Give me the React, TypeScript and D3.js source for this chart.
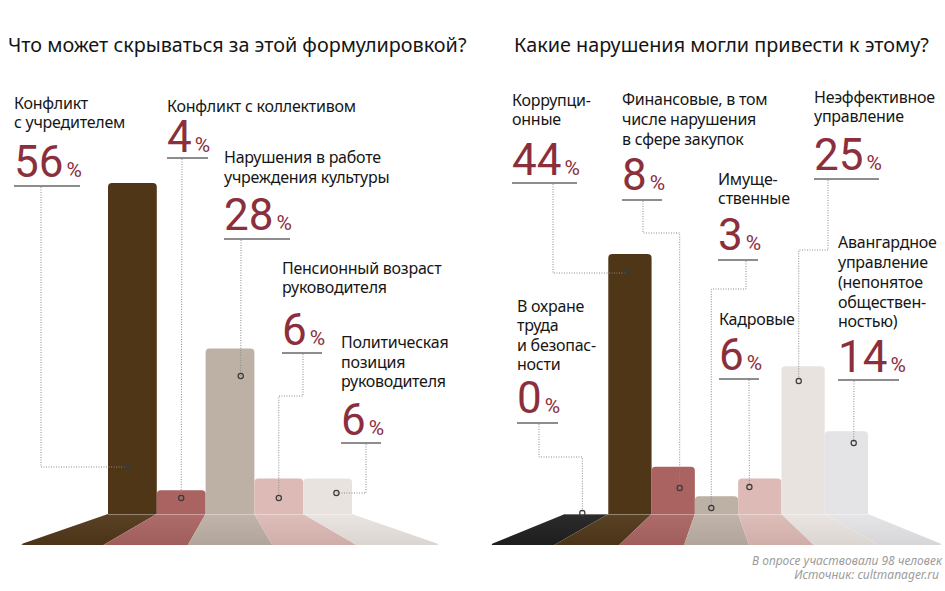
import React from "react";
import * as d3 from "d3";

// ---------- DATA ----------
const leftTitle = "Что может скрываться за этой формулировкой?";
const rightTitle = "Какие нарушения могли привести к этому?";

const leftCategories = [
  ["Конфликт", "с учредителем"],
  ["Конфликт с коллективом"],
  ["Нарушения в работе", "учреждения культуры"],
  ["Пенсионный возраст", "руководителя"],
  ["Политическая", "позиция", "руководителя"],
];
const leftValues = [56, 4, 28, 6, 6];
const leftColors = ["#4F3617", "#AA6361", "#BDB0A5", "#DDBAB5", "#E9E3DF"];

const rightCategories = [
  ["В охране", "труда", "и безопас-", "ности"],
  ["Коррупци-", "онные"],
  ["Финансовые, в том", "числе нарушения", "в сфере закупок"],
  ["Имуще-", "ственные"],
  ["Кадровые"],
  ["Неэффективное", "управление"],
  ["Авангардное", "управление", "(непонятое", "обществен-", "ностью)"],
];
const rightValues = [0, 44, 8, 3, 6, 25, 14];
const rightColors = ["#1F1F1F", "#4F3617", "#AA6361", "#BDB0A5", "#DDBAB5", "#E9E3DF", "#E4E4E7"];

const footnotes = ["В опросе участвовали 98 человек", "Источник: cultmanager.ru"];

// ---------- LAYOUT ----------
const W = 945, H = 591;
const BASE = 514, FLOOR = 545;
const FONT = "'Noto Sans', 'Open Sans', sans-serif";
const NUM_FONT = "Roboto, 'Noto Sans', sans-serif";
const RED = "#8C2F3D";

type Ann = {
  x: number; lines: number[]; num: number; ul: number; ulw: number;
  lx: number; ey?: number; dxf: number; dy: number;
};

const leftAnn: Ann[] = [
  { x: 14, lines: [109, 128], num: 177, ul: 186, ulw: 66, lx: 41, ey: 467, dxf: 0.37, dy: 467 },
  { x: 167, lines: [112], num: 152, ul: 158, ulw: 41, lx: 182, dxf: 0.5, dy: 498 },
  { x: 224, lines: [163, 183], num: 230, ul: 239, ulw: 66, lx: 241, dxf: 0.72, dy: 376 },
  { x: 282, lines: [274, 293], num: 345, ul: 353, ulw: 40, lx: 303, ey: 396, dxf: 0.5, dy: 498 },
  { x: 341, lines: [348, 368, 387], num: 435, ul: 443, ulw: 40, lx: 366, ey: 493, dxf: 0.68, dy: 493 },
];
const rightAnn: Ann[] = [
  { x: 517, lines: [312, 331, 351, 370], num: 413, ul: 423, ulw: 41, lx: 539, ey: 457, dxf: 0.4, dy: 513 },
  { x: 512, lines: [106, 125], num: 175, ul: 183, ulw: 65, lx: 553, ey: 273, dxf: 0.42, dy: 273 },
  { x: 622, lines: [105, 125, 145], num: 190, ul: 200, ulw: 40, lx: 643, ey: 233, dxf: 0.65, dy: 488 },
  { x: 718, lines: [185, 204], num: 250, ul: 260, ulw: 40, lx: 746, ey: 289, dxf: 0.38, dy: 508 },
  { x: 719, lines: [325], num: 370, ul: 379, ulw: 40, lx: 749, dxf: 0.26, dy: 487 },
  { x: 814, lines: [103, 122], num: 170, ul: 179, ulw: 65, lx: 828, ey: 250, dxf: 0.4, dy: 381 },
  { x: 838, lines: [248, 268, 288, 308, 327], num: 372, ul: 380, ulw: 61, lx: 854, dxf: 0.67, dy: 443 },
];

const yScale = d3.scaleLinear().domain([0, 56]).range([BASE, 183]);

function roundedPath(pts: [number, number][], radii: number[]) {
  let d = "";
  const n = pts.length;
  for (let i = 0; i < n; i++) {
    const p = pts[i], prev = pts[(i - 1 + n) % n], next = pts[(i + 1) % n];
    const r = radii[i];
    if (!r) { d += (i === 0 ? "M" : "L") + p[0] + "," + p[1]; continue; }
    const d1 = Math.hypot(prev[0] - p[0], prev[1] - p[1]);
    const d2 = Math.hypot(next[0] - p[0], next[1] - p[1]);
    const a = [p[0] + (prev[0] - p[0]) * r / d1, p[1] + (prev[1] - p[1]) * r / d1];
    const b = [p[0] + (next[0] - p[0]) * r / d2, p[1] + (next[1] - p[1]) * r / d2];
    d += (i === 0 ? "M" : "L") + a[0] + "," + a[1] + "Q" + p[0] + "," + p[1] + " " + b[0] + "," + b[1];
  }
  return d + "Z";
}

function Panel({ id, cats, values, colors, x0, x1, k, ann }: {
  id: string; cats: string[][]; values: number[]; colors: string[];
  x0: number; x1: number; k: number; ann: Ann[];
}) {
  const x = d3.scaleBand<number>().domain(values.map((_, i) => i)).range([x0, x1]).padding(0);
  const cx = (x0 + x1) / 2;
  const persp = (v: number) => cx + (v - cx) * k;
  const bw = x.bandwidth();
  const n = values.length;
  return (
    <g>
      {/* floor */}
      {values.map((v, i) => {
        const a = x(i)!, b = a + bw;
        const pts: [number, number][] = [[a, BASE], [b, BASE], [persp(b), FLOOR], [persp(a), FLOOR]];
        const radii = [0, 0, i === n - 1 ? 5 : 0, i === 0 ? 5 : 0];
        const top = d3.interpolateRgb(colors[i], "#ffffff")(0.06);
        const bot = d3.color(colors[i])!.darker(0.18).formatHex();
        return (
          <g key={"f" + i}>
            <defs>
              <linearGradient id={`${id}g${i}`} x1="0" y1="0" x2="0" y2="1">
                <stop offset="0" stopColor={top} />
                <stop offset="1" stopColor={bot} />
              </linearGradient>
            </defs>
            <path d={roundedPath(pts, radii)} fill={`url(#${id}g${i})`} />
          </g>
        );
      })}
      <line x1={x0} x2={x1} y1={BASE + 0.5} y2={BASE + 0.5} stroke="#ffffff" strokeOpacity={0.35} />
      {/* bars */}
      {values.map((v, i) => {
        if (v <= 0) return null;
        const a = x(i)!, b = a + bw, t = yScale(v);
        const pts: [number, number][] = [[a, BASE], [a, t], [b, t], [b, BASE]];
        return <path key={"b" + i} d={roundedPath(pts, [0, 4, 4, 0])} fill={colors[i]} />;
      })}
      {/* annotations */}
      {ann.map((an, i) => {
        const dx = x(i)! + an.dxf * bw;
        const pts: [number, number][] = [[an.lx, an.ul + 1]];
        if (an.ey !== undefined) { pts.push([an.lx, an.ey]); pts.push([dx, an.ey]); }
        pts.push([dx, an.dy]);
        const line = d3.line()(pts)!;
        return (
          <g key={"a" + i}>
            <path d={line} fill="none" stroke="#8a8a8a" strokeWidth={1} strokeDasharray="1,1.5" />
            <circle cx={dx} cy={an.dy} r={2.6} fill="none" stroke="#3a3a3a" strokeWidth={1.2} />
            <text fontFamily={FONT} fontSize={16} letterSpacing={-0.25} fill="#161616">
              {cats[i].map((l, j) => (
                <tspan key={j} x={an.x} y={an.lines[j]}>{l}</tspan>
              ))}
            </text>
            <text x={an.x} y={an.num} fill={RED} fontFamily={NUM_FONT}>
              <tspan fontSize={44}>{values[i]}</tspan>
              <tspan fontSize={21} dx={3}>%</tspan>
            </text>
            <line x1={an.x} x2={an.x + an.ulw} y1={an.ul} y2={an.ul} stroke="#8d8d8d" strokeWidth={2} />
          </g>
        );
      })}
    </g>
  );
}

export default function App() {
  return (
    <svg width={W} height={H} style={{ display: "block", position: "absolute", left: 0, top: 0, background: "#fff" }}>
      <rect width={W} height={H} fill="#fff" />
      <text x={8} y={52} fontFamily={FONT} fontSize={19.8} fill="#151515">{leftTitle}</text>
      <text x={514} y={52} fontFamily={FONT} fontSize={19.8} fill="#151515">{rightTitle}</text>
      <Panel id="L" cats={leftCategories} values={leftValues} colors={leftColors} x0={108} x1={352} k={1.73} ann={leftAnn} />
      <Panel id="R" cats={rightCategories} values={rightValues} colors={rightColors} x0={565} x1={868} k={1.5} ann={rightAnn} />
      <text textAnchor="end" fontFamily={FONT} fontStyle="italic" fontSize={12} fill="#9c9c9c">
        <tspan x={942} y={565}>{footnotes[0]}</tspan>
        <tspan x={939} y={579}>{footnotes[1]}</tspan>
      </text>
    </svg>
  );
}
